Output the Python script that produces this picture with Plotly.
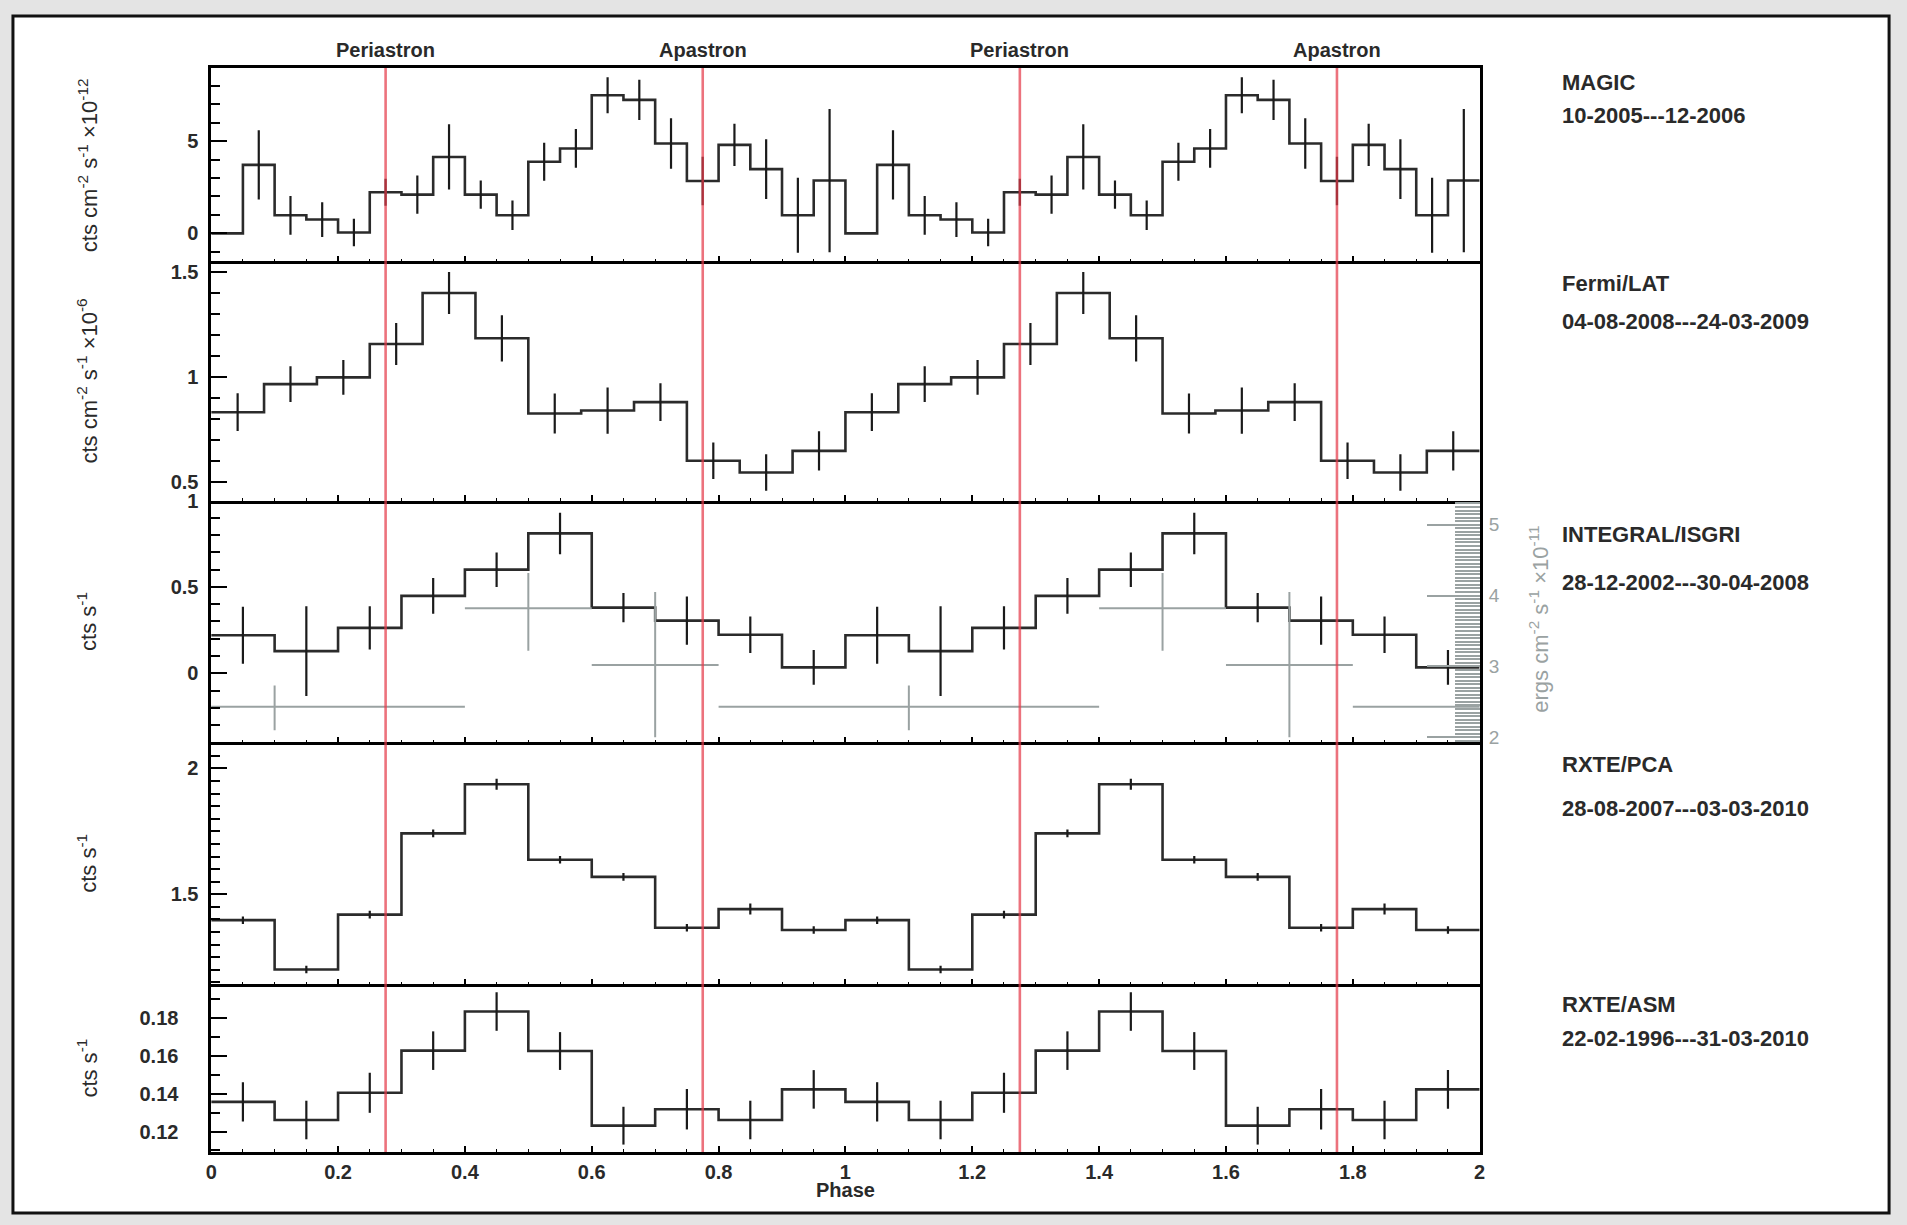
import plotly.graph_objects as go

# ---------------- data (phase-folded, one orbit; drawn twice) ----------------
magic_flux = [0.0, 3.71, 0.98, 0.75, 0.05, 2.23, 2.10, 4.14, 2.10, 0.98,
              3.88, 4.60, 7.48, 7.23, 4.87, 2.84, 4.79, 3.48, 0.98, 2.86]
magic_err = [0.0, 1.87, 1.05, 0.94, 0.74, 0.73, 1.03, 1.77, 0.76, 0.80,
             1.03, 1.05, 0.98, 1.09, 1.37, 1.31, 1.14, 1.62, 2.03, 3.88]

fermi_flux = [0.834, 0.968, 1.000, 1.159, 1.402, 1.186, 0.828, 0.842, 0.882, 0.603, 0.547, 0.650]
fermi_err = [0.090, 0.085, 0.083, 0.100, 0.100, 0.110, 0.095, 0.110, 0.090, 0.087, 0.087, 0.093]

isgri_rate = [0.220, 0.128, 0.263, 0.448, 0.600, 0.810, 0.380, 0.305, 0.223, 0.034]
isgri_err = [0.165, 0.260, 0.125, 0.104, 0.100, 0.120, 0.085, 0.140, 0.106, 0.100]

isgri_flux_phase = [0.5, 0.7, 1.1]
isgri_flux_halfwidth = [0.1, 0.1, 0.3]
isgri_flux = [3.82, 3.02, 2.43]
isgri_flux_err_plus = [0.50, 1.03, 0.30]
isgri_flux_err_minus = [0.60, 1.02, 0.33]

pca_rate = [1.397, 1.201, 1.419, 1.742, 1.937, 1.637, 1.569, 1.367, 1.441, 1.358]
pca_err = [0.015, 0.015, 0.015, 0.015, 0.022, 0.015, 0.015, 0.015, 0.022, 0.015]

asm_rate = [0.1357, 0.1261, 0.1405, 0.1628, 0.1835, 0.1626, 0.1231, 0.1318, 0.1261, 0.1423]
asm_err = [0.0104, 0.0102, 0.0106, 0.0102, 0.0102, 0.0100, 0.0100, 0.0107, 0.0102, 0.0102]

periastron_phase = 0.275
apastron_phase = 0.775

instrument_labels = ["MAGIC", "Fermi/LAT", "INTEGRAL/ISGRI", "RXTE/PCA", "RXTE/ASM"]
date_labels = ["10-2005---12-2006", "04-08-2008---24-03-2009", "28-12-2002---30-04-2008",
               "28-08-2007---03-03-2010", "22-02-1996---31-03-2010"]
y_titles = ["cts cm<sup>-2</sup> s<sup>-1</sup> ×10<sup>-12</sup>",
            "cts cm<sup>-2</sup> s<sup>-1</sup> ×10<sup>-6</sup>",
            "cts s<sup>-1</sup>", "cts s<sup>-1</sup>", "cts s<sup>-1</sup>"]
right_title = "ergs cm<sup>-2</sup> s<sup>-1</sup> ×10<sup>-11</sup>"

# ---------------- layout geometry (window pixels) ----------------
W, H = 1907, 1225
X0, X1 = 206.5, 1483.0
panel_px = [(57.7, 254.0), (254.0, 496.5), (496.5, 741.6), (741.6, 987.0), (987.0, 1157.0)]
def fy(px):
    return 1 - px / H
def fx(px):
    return px / W

y_ranges = [[-1.52, 8.96], [0.413, 1.552], [-0.40, 1.0], [1.142, 2.104], [0.1092, 0.1979]]
y_dtick = [5, 0.5, 0.5, 0.5, 0.02]
y_minor = [1, 0.1, 0.1, 0.05, 0.01]
y_standoff = [6, 6, 6, 6, 26]
right_range = [1.93, 5.34]

FONT = "Liberation Sans, Arial, sans-serif"
BLACK = "#1a1a1a"
GREY = "#9aa2a2"
RED = "rgba(228,60,75,0.72)"

fig = go.Figure()

def add_hist(vals, errs, i):
    n = len(vals)
    w = 1.0 / n
    edges = [k * w for k in range(2 * n + 1)]
    ys = list(vals) * 2 + [vals[-1]]
    centers = [(k + 0.5) * w for k in range(2 * n)]
    xa = "x" if i == 0 else f"x{i+1}"
    ya = "y" if i == 0 else f"y{i+1}"
    fig.add_trace(go.Scatter(x=edges, y=ys, mode="lines", line=dict(shape="hv", color="#2b2b2b", width=2.6),
                             xaxis=xa, yaxis=ya, hoverinfo="skip"))
    fig.add_trace(go.Scatter(x=centers, y=list(vals) * 2, mode="markers",
                             marker=dict(size=1, color="rgba(0,0,0,0)"),
                             error_y=dict(type="data", array=list(errs) * 2, thickness=2.2, width=0, color=BLACK),
                             xaxis=xa, yaxis=ya, hoverinfo="skip"))

add_hist(magic_flux, magic_err, 0)
add_hist(fermi_flux, fermi_err, 1)
add_hist(isgri_rate, isgri_err, 2)
add_hist(pca_rate, pca_err, 3)
add_hist(asm_rate, asm_err, 4)

# grey ISGRI energy-flux points (right axis), repeated for each orbit
gx, gy, ghw, gep, gem = [], [], [], [], []
for shift in (-1, 0, 1):
    for p, hw, v, ep, em in zip(isgri_flux_phase, isgri_flux_halfwidth, isgri_flux,
                                isgri_flux_err_plus, isgri_flux_err_minus):
        c = p + shift
        if c + hw > 0 and c - hw < 2:
            gx.append(c); gy.append(v); ghw.append(hw); gep.append(ep); gem.append(em)
fig.add_trace(go.Scatter(x=gx, y=gy, mode="markers", marker=dict(size=1, color="rgba(0,0,0,0)"),
                         error_x=dict(type="data", array=ghw, thickness=2, width=0, color=GREY),
                         error_y=dict(type="data", symmetric=False, array=gep, arrayminus=gem,
                                      thickness=2, width=0, color=GREY),
                         xaxis="x3", yaxis="y6", hoverinfo="skip", cliponaxis=True))

tickfont = dict(family=FONT, size=20, color="#2a2a2a", weight="bold")
xtickfont = dict(family=FONT, size=20, color="#2a2a2a", weight="bold")
layout = dict(width=W, height=H, margin=dict(l=0, r=0, t=0, b=0),
              paper_bgcolor="#e4e4e4", plot_bgcolor="white", showlegend=False)

for i, (top, bot) in enumerate(panel_px):
    xk = "xaxis" if i == 0 else f"xaxis{i+1}"
    yk = "yaxis" if i == 0 else f"yaxis{i+1}"
    ya = "y" if i == 0 else f"y{i+1}"
    xa = "x" if i == 0 else f"x{i+1}"
    layout[xk] = dict(domain=[fx(X0), fx(X1)], range=[0, 2], anchor=ya,
                      showline=True, mirror=(i == 0), linecolor="black", linewidth=2.5,
                      ticks="inside", ticklen=6, tickwidth=1.5, tickcolor="black",
                      tickmode="linear", tick0=0, dtick=0.2,
                      minor=dict(ticks="inside", ticklen=3, tickwidth=1.2, tickcolor="black",
                                 tickmode="linear", tick0=0, dtick=0.05),
                      showgrid=False, zeroline=False, showticklabels=(i == 4),
                      tickfont=xtickfont, fixedrange=True)
    layout[yk] = dict(domain=[fy(bot), fy(top)], range=y_ranges[i], anchor=xa,
                      showline=True, mirror=True, linecolor="black", linewidth=2.5,
                      ticks="inside", ticklen=16, tickwidth=2, tickcolor="black",
                      tickmode="linear", tick0=0, dtick=y_dtick[i],
                      minor=dict(ticks="inside", ticklen=9, tickwidth=1.5, tickcolor="black",
                                 tickmode="linear", tick0=0, dtick=y_minor[i]),
                      showgrid=False, zeroline=False, tickfont=tickfont,
                      ticklabelstandoff=y_standoff[i], fixedrange=True)

layout["yaxis6"] = dict(overlaying="y3", side="right", anchor="x3", range=right_range,
                        showline=False, ticks="inside", ticklen=53, tickwidth=2, tickcolor=GREY,
                        tickmode="linear", tick0=0, dtick=1,
                        minor=dict(ticks="inside", ticklen=25, tickwidth=1.5, tickcolor=GREY,
                                   tickmode="linear", tick0=0, dtick=0.05),
                        showgrid=False, zeroline=False,
                        tickfont=dict(family=FONT, size=19, color=GREY), ticklabelstandoff=8,
                        fixedrange=True)

shapes = [dict(type="rect", xref="paper", yref="paper", x0=fx(7), x1=fx(1895), y0=fy(1219), y1=fy(5),
               fillcolor="white", line=dict(color="#111", width=3), layer="below")]
for ph in (periastron_phase, apastron_phase, periastron_phase + 1, apastron_phase + 1):
    shapes.append(dict(type="line", xref="x5", yref="paper", x0=ph, x1=ph,
                       y0=fy(panel_px[-1][1]), y1=fy(panel_px[0][0]),
                       line=dict(color=RED, width=2.6), layer="above"))
layout["shapes"] = shapes

ann = []
for ph, name in ((periastron_phase, "Periastron"), (apastron_phase, "Apastron"),
                 (periastron_phase + 1, "Periastron"), (apastron_phase + 1, "Apastron")):
    ann.append(dict(x=ph, xref="x5", y=fy(40), yref="paper", text=name, showarrow=False,
                    xanchor="center", yanchor="middle",
                    font=dict(family=FONT, size=20, color="#2a2a2a", weight="bold")))

label_y = [(73, 106), (276, 315), (531, 580), (764, 809), (1007, 1042)]
for (y1, y2), name, date in zip(label_y, instrument_labels, date_labels):
    for yy, txt in ((y1, name), (y2, date)):
        ann.append(dict(x=fx(1564), xref="paper", y=fy(yy), yref="paper", text=txt, showarrow=False,
                        xanchor="left", yanchor="middle",
                        font=dict(family=FONT, size=22, color="#2a2a2a", weight="bold")))

for (top, bot), t in zip(panel_px, y_titles):
    ann.append(dict(x=fx(82), xref="paper", y=fy((top + bot) / 2), yref="paper", text=t,
                    showarrow=False, textangle=-90, xanchor="center", yanchor="middle",
                    font=dict(family=FONT, size=22, color="#2a2a2a")))

ann.append(dict(x=fx(1543), xref="paper", y=fy(617), yref="paper", text=right_title,
                showarrow=False, textangle=-90, xanchor="center", yanchor="middle",
                font=dict(family=FONT, size=22, color=GREY)))

ann.append(dict(x=1.0, xref="x5", y=fy(1196), yref="paper", text="Phase", showarrow=False,
                xanchor="center", yanchor="middle",
                font=dict(family=FONT, size=20, color="#2a2a2a", weight="bold")))
layout["annotations"] = ann

fig.update_layout(**layout)
fig.write_html(
    "out.html",
    config={"displayModeBar": False},
    post_script=("document.documentElement.style.margin='0';document.body.style.margin='0';"
                 "document.body.style.padding='0';document.documentElement.style.overflow='hidden';"
                 "document.body.style.overflow='hidden';"),
)
